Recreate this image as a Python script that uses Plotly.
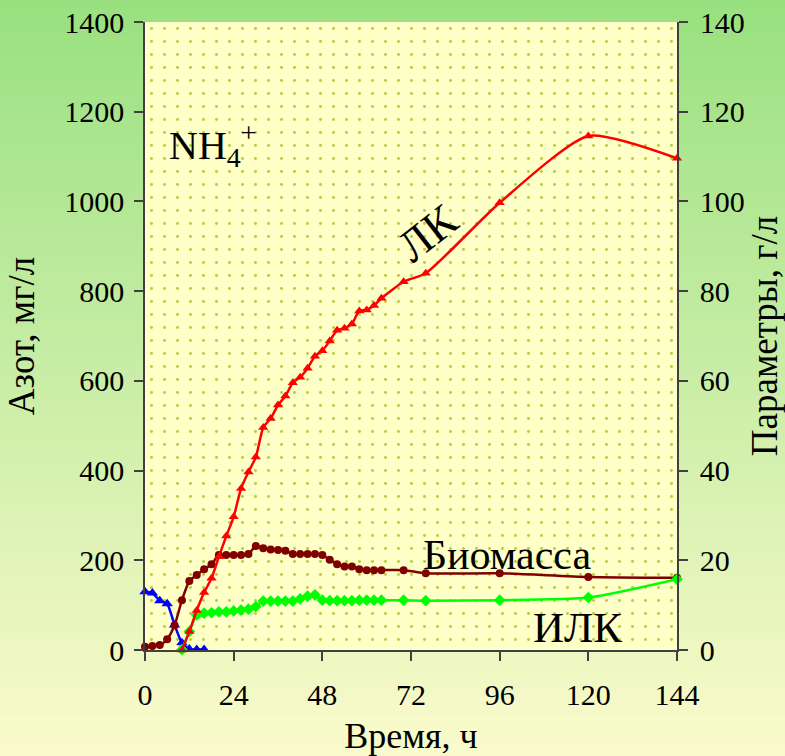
import plotly.graph_objects as go

# ---------------- data ----------------
t_nh4 = [0, 2, 4, 6, 8, 10, 12, 14, 16]
nh4 = [130, 127, 110, 103, 56, 16, 2, 1, 1]  # mg/l (left axis)

t_bio = [0, 2, 4, 6, 8, 10, 12, 14, 16, 18, 20, 22, 24, 26, 28, 30, 32, 34, 36, 38,
         40, 42, 44, 46, 48, 50, 52, 54, 56, 58, 60, 62, 64, 70, 76, 96, 120, 144]
biomass = [0.7, 0.9, 1.1, 2.4, 5.5, 11.1, 15.4, 16.7, 18.0, 19.1, 21.2, 21.2, 21.2, 21.2,
           21.4, 23.2, 22.7, 22.4, 22.3, 22.1, 21.4, 21.4, 21.4, 21.4, 21.2, 20.1, 19.1,
           18.6, 18.6, 18.0, 17.8, 17.8, 17.8, 17.8, 17.1, 17.1, 16.3, 16.1]

t_lk = [10, 12, 14, 16, 18, 20, 22, 24, 26, 28, 30, 32, 34, 36, 38, 40, 42, 44, 46, 48,
        50, 52, 54, 56, 58, 60, 62, 64, 70, 76, 96, 120, 144]
lk = [0, 4.1, 8.8, 12.8, 16.0, 20.8, 25.4, 29.7, 36.0, 39.7, 43.0, 49.6, 51.6, 54.6,
      56.6, 59.6, 60.8, 62.8, 65.5, 66.7, 68.9, 71.3, 71.7, 72.7, 75.6, 75.8, 76.8, 78.4,
      82.1, 84.0, 99.7, 114.6, 109.6]

t_ilk = t_lk
ilk = [0.1, 4.1, 7.8, 8.2, 8.3, 8.5, 8.5, 8.7, 8.9, 9.1, 9.7, 10.9, 10.9, 10.9, 10.9,
       10.9, 11.4, 12.0, 12.3, 11.1, 11.0, 11.0, 11.0, 11.0, 11.1, 11.1, 11.1, 11.1, 11.1,
       11.0, 11.1, 11.7, 15.8]

x_ticks = [0, 24, 48, 72, 96, 120, 144]
x_range = [0, 144]
y1_range = [0, 1400]
y2_range = [0, 140]

# ---------------- layout geometry ----------------
W, H = 785, 756
ML, MR, MT, MB = 145, 108, 22, 106
PW, PH = W - ML - MR, H - MT - MB

FONT = "Liberation Serif"

fig = go.Figure()

# decorative dotted plot-area background
fig.add_trace(go.Scatter(
    x=[x_range[0], x_range[1], x_range[1], x_range[0], x_range[0]],
    y=[y1_range[0], y1_range[0], y1_range[1], y1_range[1], y1_range[0]],
    mode="lines", line=dict(width=0), fill="toself",
    fillcolor="#FFFFC8",
    fillpattern=dict(shape=".", fgcolor="#B9CB3A", bgcolor="#FFFFC8",
                     size=13, solidity=0.04, fillmode="replace"),
    hoverinfo="skip", showlegend=False,
))

line_shape = "spline"
LW = 2.5

fig.add_trace(go.Scatter(
    x=t_bio, y=biomass, yaxis="y2", mode="lines+markers",
    line=dict(color="#800000", width=LW, shape=line_shape, smoothing=0.6),
    marker=dict(symbol="circle", size=8, color="#800000"),
    cliponaxis=False, showlegend=False, name="Биомасса"))

fig.add_trace(go.Scatter(
    x=t_ilk, y=ilk, yaxis="y2", mode="lines+markers",
    line=dict(color="#00FF00", width=LW, shape=line_shape, smoothing=0.6),
    marker=dict(symbol="diamond", size=9, color="#00FF00"),
    cliponaxis=False, showlegend=False, name="ИЛК"))

fig.add_trace(go.Scatter(
    x=t_lk, y=lk, yaxis="y2", mode="lines+markers",
    line=dict(color="#FF0000", width=LW, shape=line_shape, smoothing=0.6),
    marker=dict(symbol="triangle-up", size=9, color="#FF0000"),
    cliponaxis=False, showlegend=False, name="ЛК"))

fig.add_trace(go.Scatter(
    x=t_nh4, y=nh4, yaxis="y", mode="lines+markers",
    line=dict(color="#0000FF", width=LW, shape=line_shape, smoothing=0.6),
    marker=dict(symbol="triangle-up", size=10, color="#0000FF"),
    cliponaxis=False, showlegend=False, name="NH4+"))

# page gradient background via stacked bands
shapes = []
top_c = (152, 224, 128)
bot_c = (251, 251, 204)
n = 80
y_top = 1 + MT / PH
y_bot = -MB / PH
x0 = -ML / PW
x1 = 1 + MR / PW
for i in range(n):
    f = (i + 0.5) / n
    c = tuple(int(round(top_c[k] + (bot_c[k] - top_c[k]) * f)) for k in range(3))
    ya = y_top - (y_top - y_bot) * i / n
    yb = y_top - (y_top - y_bot) * (i + 1) / n
    shapes.append(dict(type="rect", xref="paper", yref="paper",
                       x0=x0 - 0.02, x1=x1 + 0.02, y0=yb - 0.002, y1=ya + 0.002,
                       line=dict(width=0), fillcolor="rgb(%d,%d,%d)" % c, layer="below"))

axis_common = dict(showline=True, linecolor="#404040", linewidth=1.5,
                   ticks="outside", ticklen=9, tickcolor="#404040", tickwidth=1.5,
                   showgrid=False, zeroline=False, automargin=False,
                   tickfont=dict(family=FONT, size=30, color="black"))

fig.update_layout(
    width=W, height=H,
    margin=dict(l=ML, r=MR, t=MT, b=MB, pad=0),
    paper_bgcolor="rgb(251,251,204)",
    plot_bgcolor="rgba(0,0,0,0)",
    shapes=shapes,
    xaxis=dict(range=x_range, tickvals=x_ticks, ticklabelstandoff=8,
               title=dict(text="Время, ч", font=dict(family=FONT, size=36, color="black"),
                          standoff=14),
               **axis_common),
    yaxis=dict(range=y1_range, dtick=200, ticklabelstandoff=4,
               title=dict(text="Азот, мг/л", font=dict(family=FONT, size=37, color="black"),
                          standoff=18),
               **axis_common),
    yaxis2=dict(range=y2_range, dtick=20, overlaying="y", side="right", ticklabelstandoff=6,
                title=dict(text="Параметры, г/л", font=dict(family=FONT, size=37, color="black"),
                           standoff=6),
                **axis_common),
    annotations=[
        dict(x=18.4, y=1126, xref="x", yref="y", showarrow=False,
             text="NH<sub>4</sub><sup>+</sup>", font=dict(family=FONT, size=40, color="black")),
        dict(x=76.5, y=930, xref="x", yref="y", showarrow=False, textangle=-38,
             text="ЛК", font=dict(family=FONT, size=45, color="black")),
        dict(x=98, y=212, xref="x", yref="y", showarrow=False,
             text="Биомасса", font=dict(family=FONT, size=42, color="black")),
        dict(x=117, y=51, xref="x", yref="y", showarrow=False,
             text="ИЛК", font=dict(family=FONT, size=43, color="black")),
    ],
)

fig.write_html("out.html", config={"responsive": False, "displayModeBar": False},
               post_script="document.body.style.margin='0';document.body.style.padding='0';")
